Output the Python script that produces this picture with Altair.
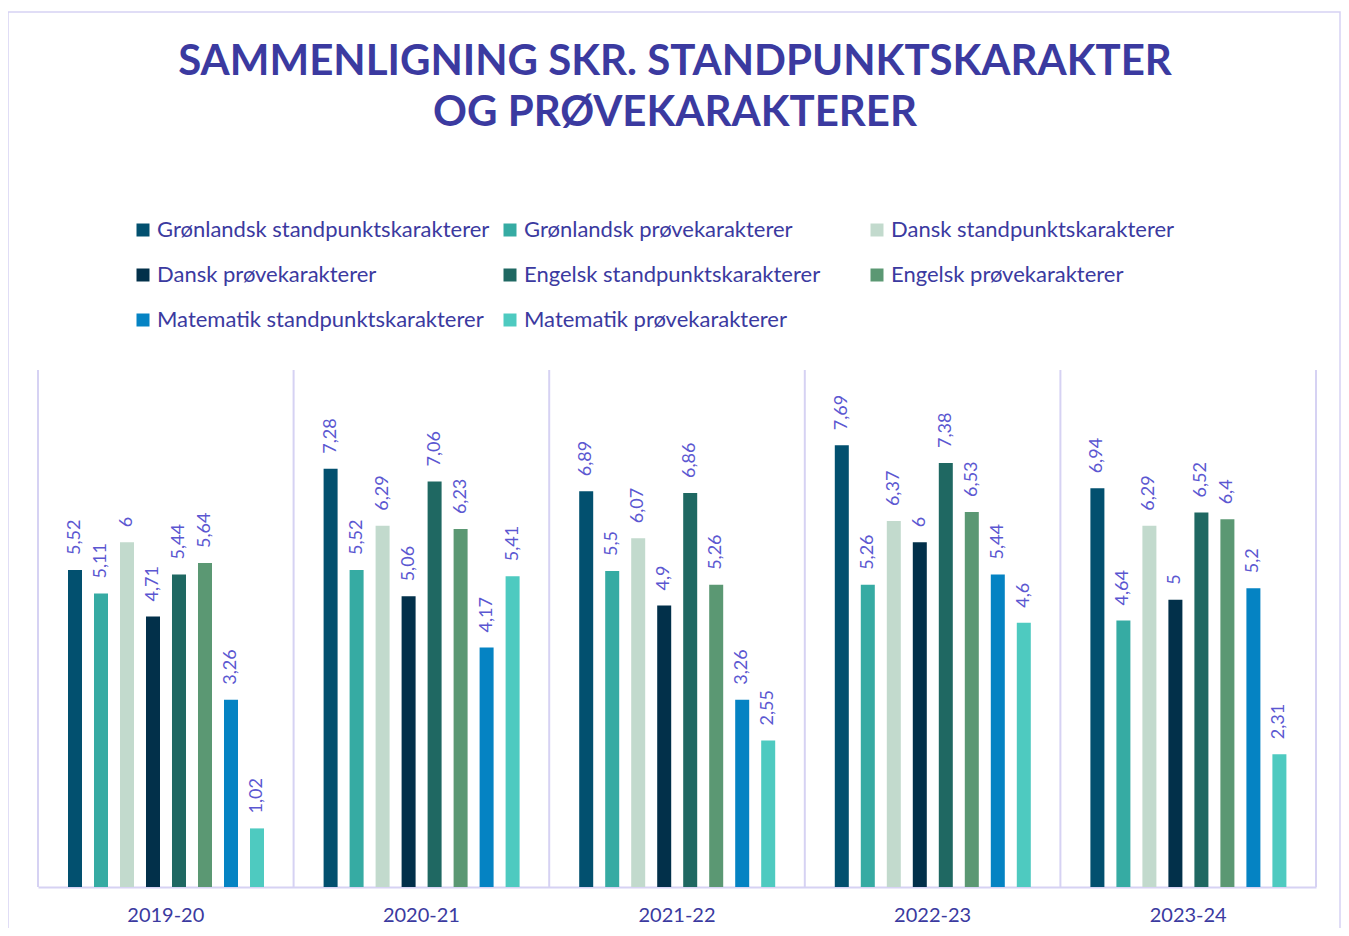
import altair as alt
import pandas as pd

years = ["2019-20", "2020-21", "2021-22", "2022-23", "2023-24"]
series = [
    "Grønlandsk standpunktskarakterer",
    "Grønlandsk prøvekarakterer",
    "Dansk standpunktskarakterer",
    "Dansk prøvekarakterer",
    "Engelsk standpunktskarakterer",
    "Engelsk prøvekarakterer",
    "Matematik standpunktskarakterer",
    "Matematik prøvekarakterer",
]
colors = ["#02506F", "#36ABA3", "#C2DACD", "#02304A", "#1F6862", "#5B9873", "#0583C3", "#4ECAC0"]

gl_standpunkt = [5.52, 7.28, 6.89, 7.69, 6.94]
gl_prove = [5.11, 5.52, 5.5, 5.26, 4.64]
da_standpunkt = [6, 6.29, 6.07, 6.37, 6.29]
da_prove = [4.71, 5.06, 4.9, 6, 5]
en_standpunkt = [5.44, 7.06, 6.86, 7.38, 6.52]
en_prove = [5.64, 6.23, 5.26, 6.53, 6.4]
ma_standpunkt = [3.26, 4.17, 3.26, 5.44, 5.2]
ma_prove = [1.02, 5.41, 2.55, 4.6, 2.31]

title_lines = ["SAMMENLIGNING SKR. STANDPUNKTSKARAKTER", "OG PRØVEKARAKTERER"]

all_values = [gl_standpunkt, gl_prove, da_standpunkt, da_prove,
              en_standpunkt, en_prove, ma_standpunkt, ma_prove]

rows = []
for s, vals in zip(series, all_values):
    for y, v in zip(years, vals):
        rows.append({"year": y, "series": s, "value": v,
                     "label": (f"{v:g}").replace(".", ",")})
df = pd.DataFrame(rows)

W, H = 1278, 517
TXT = "#3B3AA0"
LBL = "#5B57D1"
LINE = "#D6D2F3"
FONT = "Lato"

xscale = alt.Scale(paddingInner=0, paddingOuter=0)
xaxis = alt.Axis(labelAngle=0, labelAlign="center", labelBaseline="middle", ticks=False, grid=False,
                 domainColor=LINE, domainWidth=2, labelFont=FONT, labelFontSize=20,
                 labelColor=TXT, labelPadding=28)
xenc = alt.X("year:N", sort=years, title=None, scale=xscale, axis=xaxis)
xoff = alt.XOffset("series:N", sort=series,
                   scale=alt.Scale(range=[30, 226], paddingInner=0.4615, paddingOuter=0))
yenc = alt.Y("value:Q", scale=alt.Scale(domain=[0, 9], nice=False), axis=None)

base = alt.Chart(df)

bars = base.mark_bar().encode(
    x=xenc, xOffset=xoff, y=yenc,
    color=alt.Color("series:N", sort=series,
                    scale=alt.Scale(domain=series, range=colors),
                    legend=alt.Legend(orient="none", legendX=94, legendY=-151, columns=3,
                                      direction="horizontal",
                                      gridAlign="all", columnPadding=9, rowPadding=23,
                                      symbolType="square", symbolSize=169, symbolStrokeWidth=0,
                                      labelFont=FONT, labelFontSize=22, labelColor=TXT,
                                      labelLimit=600, title=None, padding=0, labelOffset=3)),
)

labels = base.mark_text(angle=270, align="left", baseline="middle", dx=15,
                        font=FONT, fontSize=18, color=LBL).encode(
    x=xenc, xOffset=xoff, y=yenc, text="label:N")

# separators at the left edge of each year band (shifted half a band from centre)
seps = alt.Chart(pd.DataFrame({"year": years})).mark_rule(
    color=LINE, strokeWidth=2, xOffset=-W / len(years) / 2).encode(
    x=xenc, y=alt.value(0), y2=alt.value(H))
last_sep = alt.Chart(pd.DataFrame({"a": [0]})).mark_rule(color=LINE, strokeWidth=2).encode(
    x=alt.value(W), y=alt.value(0), y2=alt.value(H))

border = alt.Chart(pd.DataFrame({"a": [0]})).mark_rect(
    fillOpacity=0, stroke=LINE, strokeWidth=1.5).encode(
    x=alt.value(-30), x2=alt.value(1302), y=alt.value(-358), y2=alt.value(H + 150))

title = alt.Chart(pd.DataFrame({"a": [0]})).mark_text(
    align="center", baseline="alphabetic", font=FONT, fontSize=42, fontWeight="bold",
    color=TXT, lineHeight=51).encode(
    x=alt.value(W / 2 - 2), y=alt.value(-295), text=alt.value(title_lines))

chart = alt.layer(border, seps, last_sep, bars, labels, title).properties(
    width=W, height=H,
    view=alt.ViewBackground(stroke=None, strokeWidth=0),
    autosize=alt.AutoSizeParams(type="none"),
    padding={"left": 30, "top": 362, "right": 25, "bottom": 41},
).configure_view(strokeWidth=0, stroke=None).configure(background="white")

chart.save("out.html", embed_options={"renderer": "svg", "actions": False})
